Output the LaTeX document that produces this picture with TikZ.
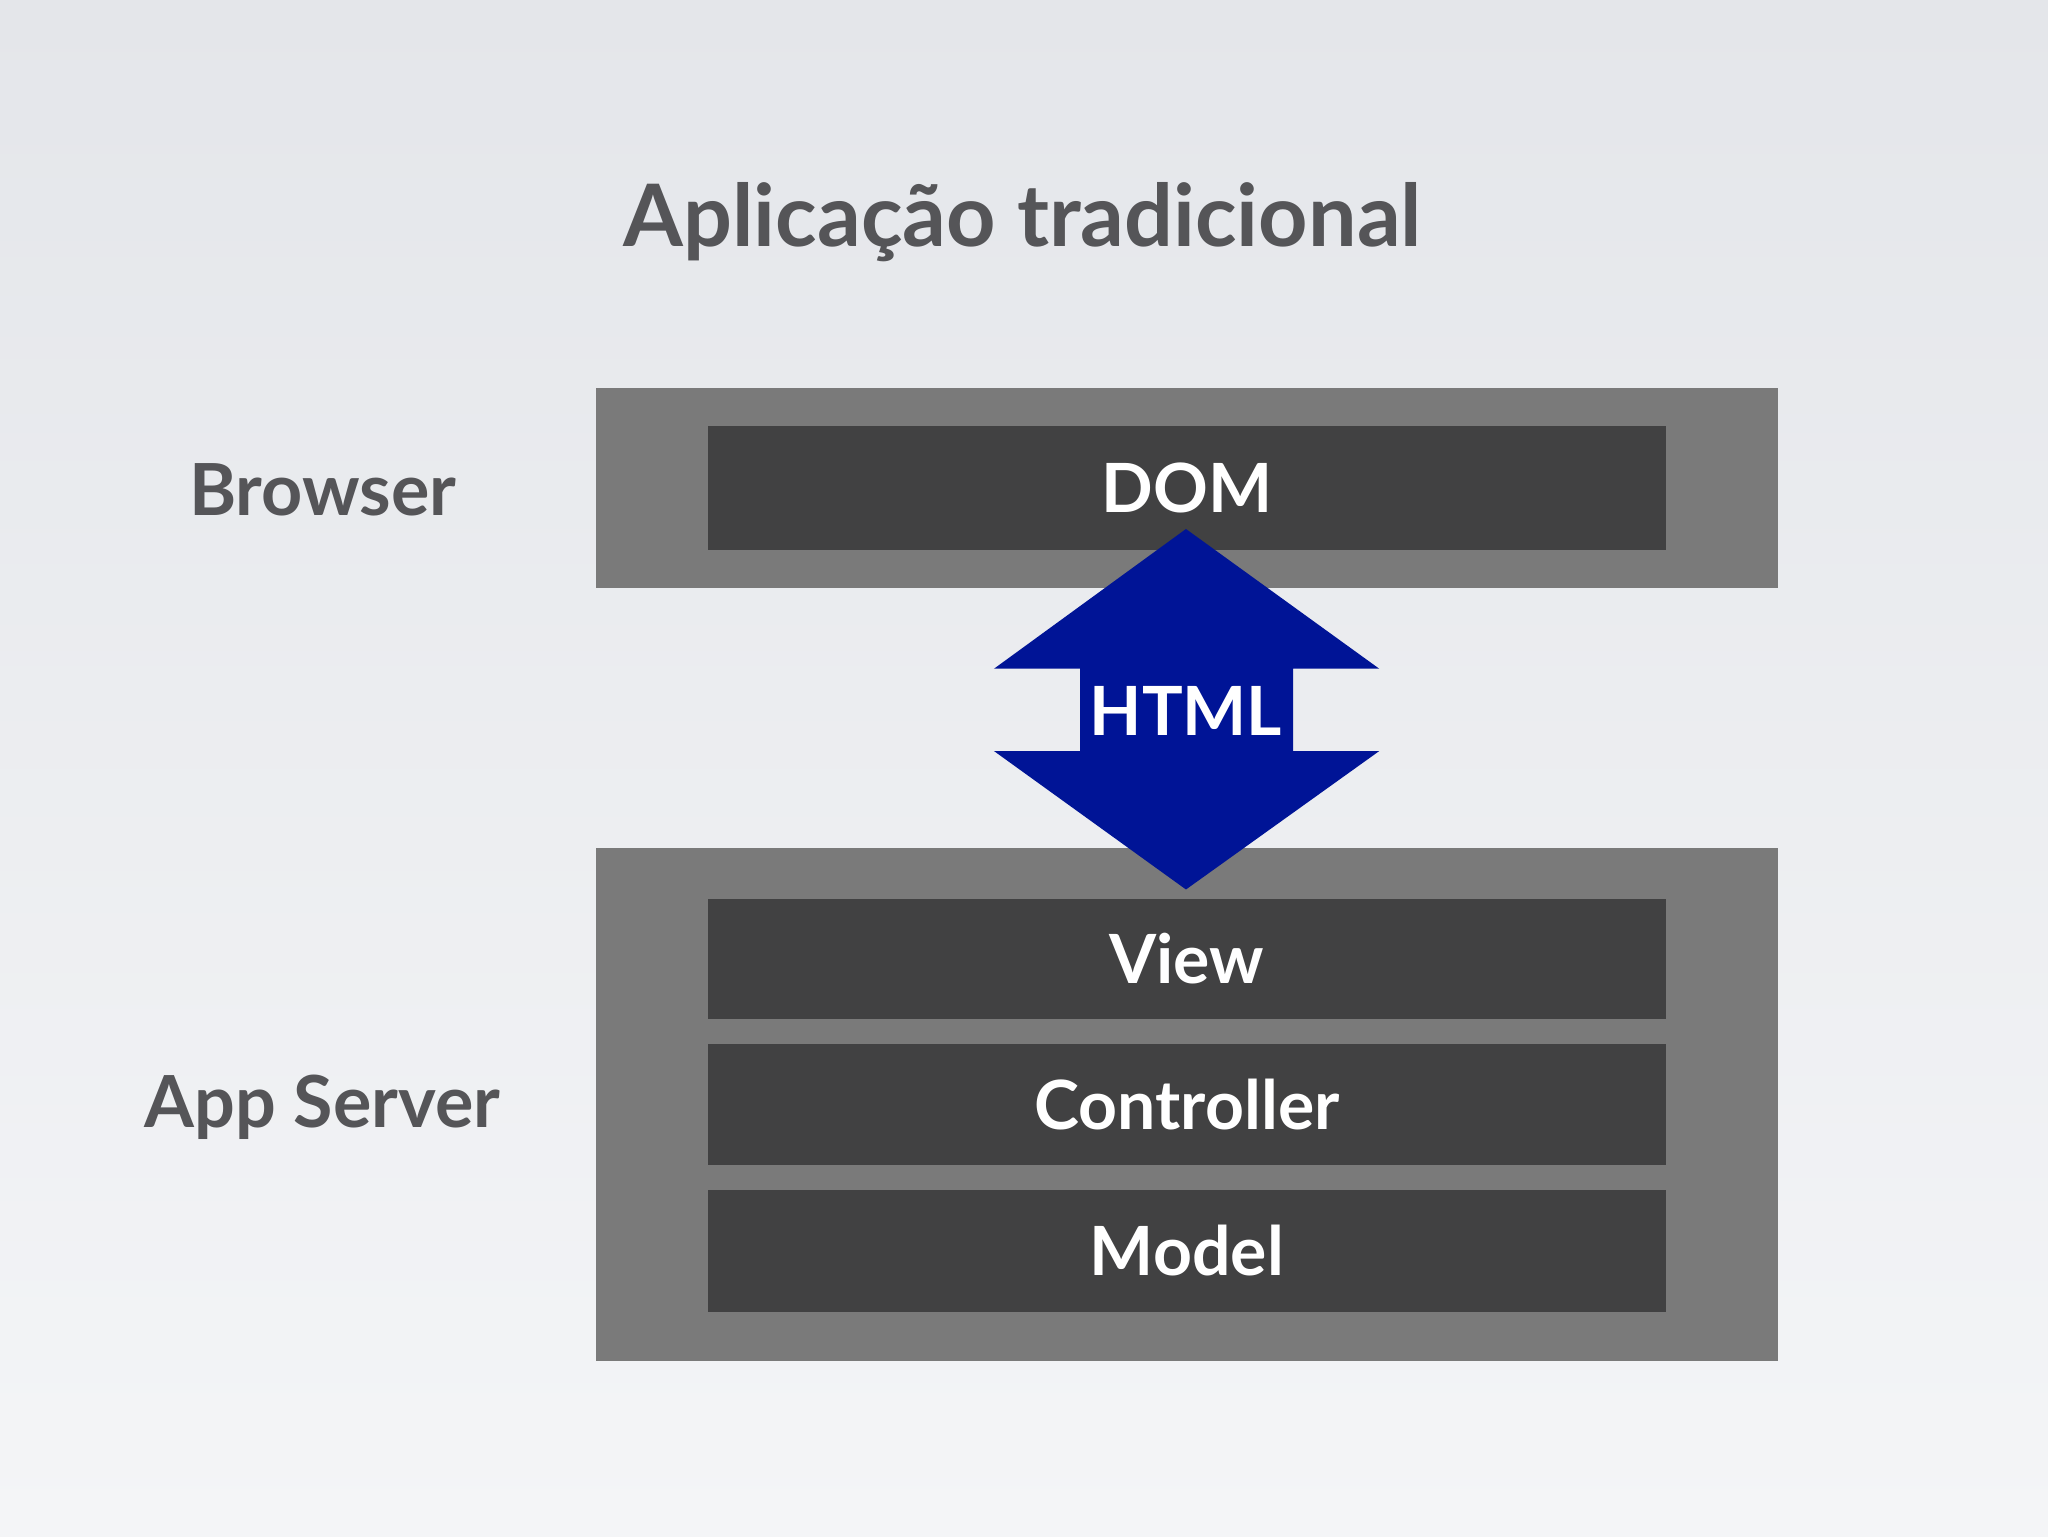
\documentclass[tikz,border=0pt]{standalone}
\usepackage{fontspec}
\setmainfont{Lato}
\definecolor{outerg}{HTML}{7A7A7A}
\definecolor{innerg}{HTML}{414142}
\definecolor{txtg}{HTML}{555558}
\definecolor{arrblue}{HTML}{001496}
\begin{document}
\begin{tikzpicture}[x=1pt,y=-1pt,
  outerbox/.style={fill=outerg,draw=none},
  innerbox/.style={fill=innerg,draw=none,minimum width=733pt,anchor=north west,inner sep=0pt,text=white,font=\fontsize{52}{58}\selectfont\bfseries},
  lbl/.style={text=txtg,font=\fontsize{55}{60}\selectfont\bfseries}]
\shade[top color={rgb,255:red,228;green,230;blue,234},bottom color={rgb,255:red,244;green,245;blue,247}] (0,0) rectangle (1568,1176);
\useasboundingbox (0,0) rectangle (1568,1176);
\node[text=txtg,font=\fontsize{66}{70}\selectfont\bfseries] (title) at (783,170) {Aplicação tradicional};
\fill[outerg] (456,297) rectangle (1361,450);
\fill[outerg] (456,649) rectangle (1361,1042);
\node[innerbox,minimum height=95pt] (dom) at (542,326) {DOM};
\node[innerbox,minimum height=92pt] (view) at (542,688) {View};
\node[innerbox,minimum height=93pt] (ctrl) at (542,799) {Controller};
\node[innerbox,minimum height=93pt] (model) at (542,911) {Model};
\node[lbl] (browser) at (247,375) {Browser};
\node[lbl] (app) at (247,848) {App Server};
\fill[arrblue] (908,405) -- (1056,512) -- (990,512) -- (990,575) -- (1056,575) -- (908,681) -- (761,575) -- (827,575) -- (827,512) -- (761,512) -- cycle;
\node[text=white,font=\fontsize{52}{56}\selectfont\bfseries] (html) at (908,544) {HTML};
\end{tikzpicture}
\end{document}
